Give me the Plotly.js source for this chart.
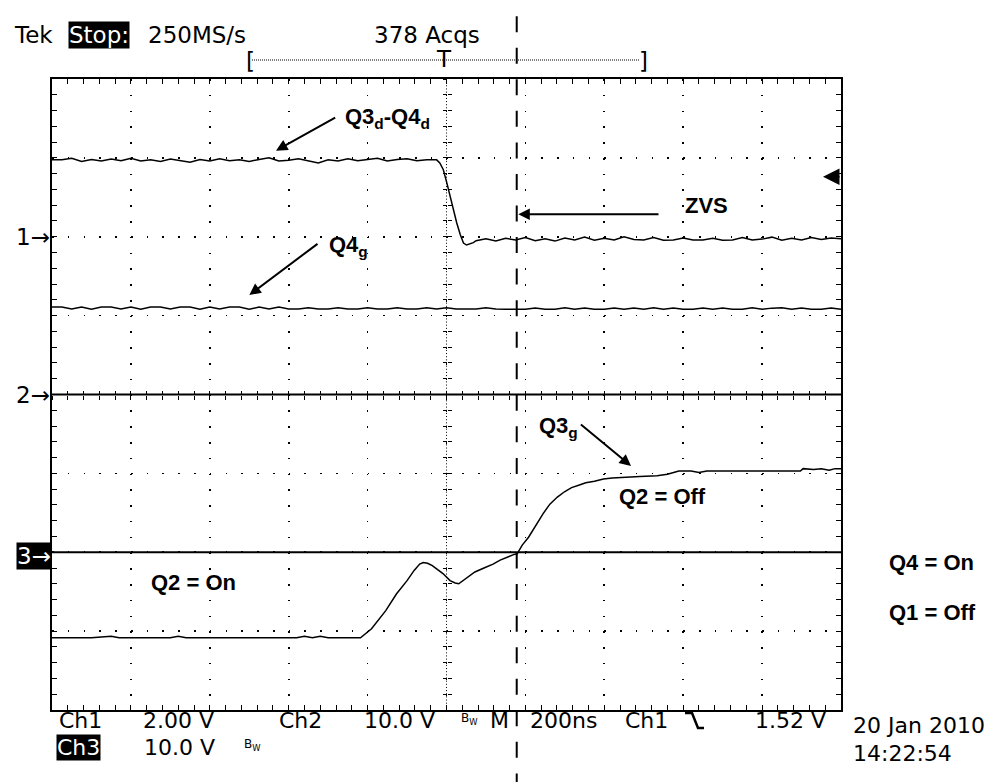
<!DOCTYPE html>
<html><head><meta charset="utf-8">
<script src="https://cdn.plot.ly/plotly-3.0.1.min.js"></script>
<style>html,body{margin:0;padding:0;background:#fff}#chart{width:1005px;height:782px}</style>
</head><body><div id="chart"></div>
<script>
// ---------------- DATA ----------------
// time in ns (200 ns/div, trigger at 0), values in volts
const ch1Time = [-1000,-975,-950,-925,-900,-875,-850,-825,-800,-775,-750,-725,-700,-675,-650,-625,-600,-575,-550,-525,-500,-475,-450,-425,-400,-375,-350,-325,-300,-275,-250,-225,-200,-175,-150,-125,-100,-75,-50,-25,
  -17,-8,1,9,18,26,35,43,51,68,
  75,100,125,150,175,200,225,250,275,300,325,350,375,400,425,450,475,500,525,550,575,600,625,650,675,700,725,750,775,800,825,850,875,900,925,950,975,1000];
const ch1Volts = [1.95,1.95,1.99,1.91,1.96,1.92,1.97,1.93,1.99,1.92,1.95,1.91,1.97,1.93,1.89,1.96,1.92,1.98,1.93,1.95,1.91,1.96,2.00,1.92,1.94,1.98,1.93,1.87,1.95,1.92,1.98,1.93,1.96,1.99,1.92,1.96,1.98,1.93,1.95,1.95,
  1.87,1.70,1.36,1.02,0.68,0.35,0.05,-0.16,-0.21,-0.15,
  -0.10,-0.05,-0.11,-0.04,-0.08,-0.02,-0.10,-0.05,-0.11,-0.03,-0.08,-0.01,-0.09,-0.04,-0.08,0.00,-0.07,-0.08,-0.02,-0.09,-0.08,-0.03,-0.08,-0.08,-0.04,-0.09,-0.08,-0.02,-0.08,-0.06,-0.01,-0.09,-0.04,-0.08,-0.02,-0.07,-0.03,-0.05];

const ch2Time = [-1000,-975,-950,-925,-900,-875,-850,-825,-800,-775,-750,-725,-700,-675,-650,-625,-600,-575,-550,-525,-500,-475,-450,-425,-400,-375,-350,-325,-300,-275,-250,-225,-200,-175,-150,-125,-100,-75,-50,-25,0,
  25,50,75,100,125,150,175,200,225,250,275,300,325,350,375,400,425,450,475,500,525,550,575,600,625,650,675,700,725,750,775,800,825,850,875,900,925,950,975,1000];
const ch2Volts = [11.1,11.1,10.85,11.1,10.8,11.1,11.1,10.85,11.1,10.8,11.1,11.1,10.85,11.1,11.1,10.8,11.1,10.85,11.1,11.1,10.8,11.1,10.85,11.1,10.85,10.85,11.0,10.85,10.85,11.0,10.85,10.85,11.0,10.85,10.85,11.0,10.85,10.85,11.0,10.85,11.0,
  10.85,10.85,10.85,11.0,10.85,10.8,10.8,10.8,10.95,10.8,10.8,11.0,10.8,10.95,10.8,10.8,10.95,10.8,10.95,10.8,11.0,10.8,10.95,10.8,10.8,10.95,10.8,10.95,10.8,10.8,11.0,10.8,10.95,11.0,10.8,10.95,10.8,10.8,10.95,10.8];

const ch3Time = [-1000,-900,-850,-830,-700,-680,-660,-380,-360,-340,-320,-300,-218,-190,-154,-127,-100,-82,-68,-59,-48,-36,-20,-9,9,22,31,50,72,95,118,136,154,170,179,192,208,226,245,262,281,300,317,335,353,375,398,420,444,490,534,560,589,620,640,660,897,904,930,950,970,985,1000];
const ch3Volts = [-10.85,-10.85,-10.65,-10.85,-10.85,-10.65,-10.85,-10.85,-10.65,-10.85,-10.65,-10.85,-10.85,-9.7,-7.4,-5.3,-3.6,-2.3,-1.5,-1.3,-1.4,-1.7,-2.3,-2.7,-3.6,-3.9,-4.0,-3.3,-2.5,-2.0,-1.5,-1.0,-0.6,-0.3,-0.2,0.9,1.9,3.4,4.9,6.1,7.0,7.7,8.2,8.5,8.8,9.0,9.3,9.4,9.5,9.6,9.7,9.9,10.3,10.3,10.1,10.3,10.3,10.6,10.5,10.6,10.4,10.6,10.6];

// flat reference traces drawn at channel 2 and channel 3 ground
const refTime = [-1000, 1000];
const ch2RefVolts = [0, 0];
const ch3RefVolts = [0, 0];

const voltsPerDiv = {ch1: 2.00, ch2: 10.0, ch3: 10.0};
const groundDiv   = {ch1: 2, ch2: 0, ch3: -2};   // marker positions (divisions from centre)
const triggerLevel = 1.52;   // V on Ch1
const cursorTime = 178;      // ns, dashed cursor

// ---------------- helpers ----------------
const L = 52, T = 79, W = 789, H = 631;
function P(px, py) { return {x: (px - L) / W, y: (T + H - py) / H}; }
function toDiv(v, ch) { return v.map(d => groundDiv[ch] + d / voltsPerDiv[ch]); }

const SCOPE = 'DejaVu Sans, Verdana, sans-serif';
const LABEL = 'Liberation Sans, Arial, sans-serif';
const FS = 23, FB = 22;

function txt(text, px, py, opt) {
  const p = P(px, py);
  return Object.assign({text: text, x: p.x, y: p.y, xref: 'paper', yref: 'paper',
    xanchor: 'left', yanchor: 'middle', showarrow: false,
    font: {family: SCOPE, size: FS, color: '#000'}}, opt || {});
}
function bot(text, px, py, opt) {
  return txt(text, px, py, Object.assign({font: {family: SCOPE, size: FB, color: '#000'}}, opt || {}));
}
function inv(text, px, py, size, opt) {
  return txt(text, px, py, Object.assign({bgcolor: '#000', borderpad: 0,
    font: {family: SCOPE, size: size, color: '#fff'}}, opt || {}));
}
function lbl(text, px, py, opt) {
  return txt('<b>' + text + '</b>', px, py, Object.assign({font: {family: LABEL, size: 22, color: '#000'}}, opt || {}));
}
function arrow(hx, hy, tx, ty, opt) {
  const p = P(hx, hy);
  return Object.assign({text: '', x: p.x, y: p.y, xref: 'paper', yref: 'paper', showarrow: true,
    ax: tx - hx, ay: ty - hy, arrowhead: 2, arrowsize: 1.15, arrowwidth: 2, arrowcolor: '#000', standoff: 0}, opt || {});
}

const lineStyle = {color: '#000', width: 1.5};
const traces = [
  {x: refTime, y: toDiv(ch2RefVolts, 'ch2'), mode: 'lines', line: {color: '#000', width: 2}},
  {x: refTime, y: toDiv(ch3RefVolts, 'ch3'), mode: 'lines', line: {color: '#000', width: 2}},
  {x: ch1Time, y: toDiv(ch1Volts, 'ch1'), mode: 'lines', line: lineStyle, name: 'Q3d-Q4d'},
  {x: ch2Time, y: toDiv(ch2Volts, 'ch2'), mode: 'lines', line: lineStyle, name: 'Q4g'},
  {x: ch3Time, y: toDiv(ch3Volts, 'ch3'), mode: 'lines', line: lineStyle, name: 'Q3g'},
  {x: [null], y: [null], xaxis: 'x2', yaxis: 'y', mode: 'lines'},
  {x: [null], y: [null], xaxis: 'x3', yaxis: 'y', mode: 'lines'},
  {x: [null], y: [null], xaxis: 'x', yaxis: 'y2', mode: 'lines'},
  {x: [null], y: [null], xaxis: 'x', yaxis: 'y3', mode: 'lines'}
];

const gridDash = '1.6px,14.18px';
const baseX = {range: [-1000, 1000], tick0: -1000, dtick: 200, showgrid: true, gridcolor: '#000', gridwidth: 1.6,
  griddash: gridDash, zeroline: false, showline: true, linecolor: '#000', linewidth: 2, mirror: 'ticks',
  ticks: 'inside', ticklen: 5, tickwidth: 1, tickcolor: '#000',
  minor: {tick0: -1000, dtick: 40, ticks: 'inside', ticklen: 5, tickwidth: 1, tickcolor: '#000', showgrid: false},
  showticklabels: false, fixedrange: true};
const baseY = {range: [-4, 4], tick0: -4, dtick: 1, showgrid: true, gridcolor: '#000', gridwidth: 1.6,
  griddash: gridDash, zeroline: false, showline: true, linecolor: '#000', linewidth: 2, mirror: 'ticks',
  ticks: 'inside', ticklen: 5, tickwidth: 1, tickcolor: '#000',
  minor: {tick0: -4, dtick: 0.2, ticks: 'inside', ticklen: 5, tickwidth: 1, tickcolor: '#000', showgrid: false},
  showticklabels: false, fixedrange: true};
function cross(ov, side, dt, t0, range) {
  return {overlaying: ov, anchor: 'free', position: 0.5, range: range, tick0: t0, dtick: dt, ticks: side,
    ticklen: 4, tickwidth: 1, tickcolor: '#000', showticklabels: false, showgrid: false, zeroline: false,
    showline: false, fixedrange: true};
}

const trigDiv = groundDiv.ch1 + triggerLevel / voltsPerDiv.ch1;
const cursorPaper = (cursorTime + 1000) / 2000;
const edge = [P(685, 713), P(692, 713), P(698, 728), P(704, 728)];
const edgePath = 'M' + edge.map(p => p.x + ',' + p.y).join(' L');

const R1 = 720.5, R2 = 747;
const annotations = [
  // header
  txt('Tek', 12, 35),
  inv('Stop:', 68, 35, FS),
  txt('250MS/s', 146, 35),
  txt('378 Acqs', 372, 35),
  txt('[', 244, 61),
  txt(']', 637, 61),
  txt('T', 443.5, 58.5, {xanchor: 'center'}),
  // channel markers
  txt('1\u2192', 52, 237, {xanchor: 'right'}),
  txt('2\u2192', 52, 395, {xanchor: 'right'}),
  inv('3\u2192', 52, 556, FS, {xanchor: 'right'}),
  // footer
  bot('Ch1', 57, R1),
  bot('2.00 V', 141, R1),
  bot('Ch2', 277, R1),
  bot('10.0 V', 362, R1),
  bot('B<sub>W</sub>', 459, R1 - 2, {font: {family: SCOPE, size: 12, color: '#000'}}),
  bot('M', 488, R1),
  bot('200ns', 528, R1),
  bot('Ch1', 623, R1),
  bot('1.52 V', 753, R1),
  inv('Ch3', 56, R2, FB),
  bot('10.0 V', 142, R2),
  bot('B<sub>W</sub>', 242, R2 - 2, {font: {family: SCOPE, size: 12, color: '#000'}}),
  bot('20 Jan 2010', 851, 725.5),
  bot('14:22:54', 851, 753),
  // labels
  lbl('Q3<sub>d</sub>-Q4<sub>d</sub>', 343, 118),
  lbl('Q4<sub>g</sub>', 327, 246),
  lbl('ZVS', 683, 205.5),
  lbl('Q3<sub>g</sub>', 537, 427),
  lbl('Q2 = Off', 617, 496.5),
  lbl('Q2 = On', 149, 582.5),
  lbl('Q4 = On', 887, 562.5),
  lbl('Q1 = Off', 887, 612.5),
  // arrows
  arrow(276, 150.7, 336.7, 116.7),
  arrow(249.3, 295, 319, 242.7),
  arrow(518.3, 214.3, 660, 214.3),
  arrow(631, 466, 579.4, 423.3),
  // trigger level indicator
  {text: '', x: P(823, 0).x, y: trigDiv, xref: 'paper', yref: 'y', showarrow: true, ax: 18, ay: 0,
   arrowhead: 2, arrowsize: 2.2, arrowwidth: 1.5, arrowcolor: '#000', standoff: 0}
];

const shapes = [
  // centre vertical dense dotted line
  {type: 'line', xref: 'x', yref: 'y', x0: 0, x1: 0, y0: -4, y1: 4, layer: 'below',
   line: {color: '#000', width: 1, dash: '1px,2.15px'}},
  // record bracket dotted line
  {type: 'line', xref: 'paper', yref: 'paper', x0: P(252, 60).x, x1: P(640, 60).x, y0: P(0, 60).y, y1: P(0, 60).y,
   line: {color: '#000', width: 1, dash: '1px,1px'}},
  // cursor dashed line
  {type: 'line', xref: 'paper', yref: 'paper', x0: cursorPaper, x1: cursorPaper, y0: P(0, 16.2).y, y1: P(0, 782).y,
   line: {color: '#000', width: 2, dash: '16px,15.55px'}},
  // falling-edge trigger glyph
  {type: 'path', xref: 'paper', yref: 'paper', path: edgePath, line: {color: '#000', width: 2.5}}
];

const layout = {
  width: 1005, height: 782, margin: {l: L, r: 1005 - L - W, t: T, b: 782 - T - H, pad: 0},
  paper_bgcolor: '#fff', plot_bgcolor: '#fff', showlegend: false, hovermode: false,
  xaxis: baseX, yaxis: baseY,
  xaxis2: cross('x', 'outside', 40, -1000, [-1000, 1000]),
  xaxis3: cross('x', 'inside', 40, -1000, [-1000, 1000]),
  yaxis2: cross('y', 'outside', 0.2, -4, [-4, 4]),
  yaxis3: cross('y', 'inside', 0.2, -4, [-4, 4]),
  annotations: annotations, shapes: shapes
};

Plotly.newPlot('chart', traces, layout, {staticPlot: true, displayModeBar: false});
</script>
</body></html>
